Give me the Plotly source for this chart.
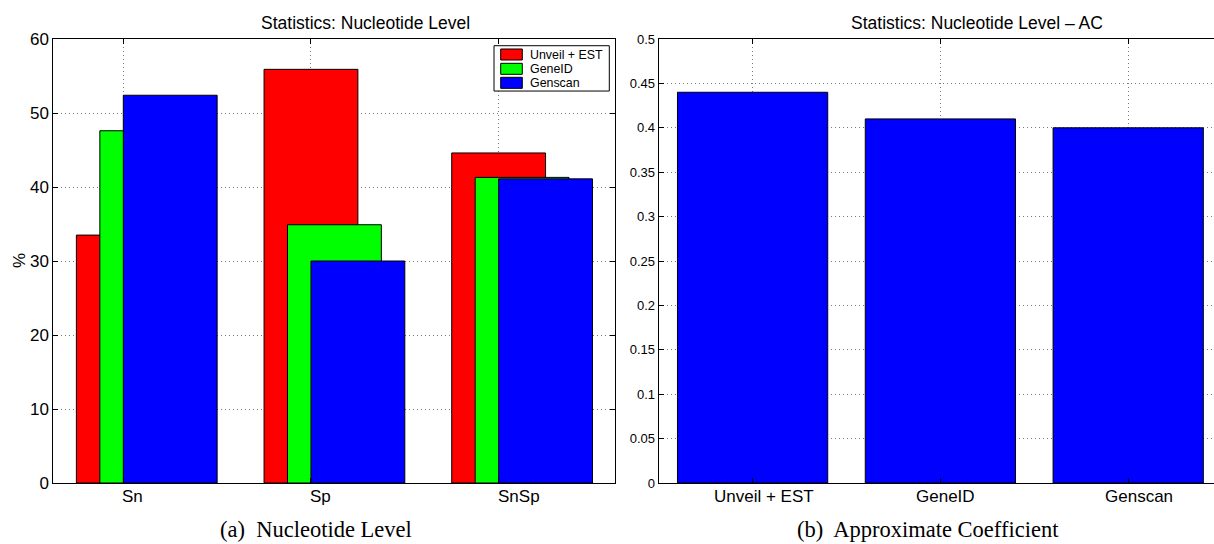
import plotly.graph_objects as go

# ---------------- data ----------------
categories = ["Sn", "Sp", "SnSp"]
methods = ["Unveil + EST", "GeneID", "Genscan"]
unveil_est = [33.5, 55.9, 44.6]
geneid = [47.6, 34.9, 41.3]
genscan = [52.4, 30.0, 41.1]
ac_values = [0.44, 0.41, 0.40]
left_yticks = [0, 10, 20, 30, 40, 50, 60]
right_yticks = [0, 0.05, 0.1, 0.15, 0.2, 0.25, 0.3, 0.35, 0.4, 0.45, 0.5]
right_yticktext = ["0", "0.05", "0.1", "0.15", "0.2", "0.25", "0.3", "0.35", "0.4", "0.45", "0.5"]

# ---------------- style ----------------
W, H = 1214, 544
TOP, BOT = 39.0, 482.7
colors = ["#FF0000", "#00FF00", "#0000FF"]
offsets = [-0.25, -0.125, 0.0]
SANS = "Liberation Sans, Arial, Helvetica, sans-serif"
SERIF = "Liberation Serif, Times New Roman, serif"

def px2x(px):
    return px / W

def py2y(py):
    return (BOT - py) / (BOT - TOP)

fig = go.Figure()
xpos = list(range(1, len(categories) + 1))
series = [unveil_est, geneid, genscan]
for name, vals, col, off in zip(methods, series, colors, offsets):
    fig.add_trace(go.Bar(x=xpos, y=vals, name=name, width=0.5, offset=off,
                         marker=dict(color=col, line=dict(color="black", width=1)),
                         xaxis="x", yaxis="y", showlegend=False))

fig.add_trace(go.Bar(x=list(range(1, len(methods) + 1)), y=ac_values, width=0.8,
                     marker=dict(color="#0000FF", line=dict(color="black", width=1)),
                     xaxis="x2", yaxis="y2", showlegend=False))

grid = dict(showgrid=True, gridcolor="#7a7a7a", griddash="1px,3px", gridwidth=1, zeroline=False)
axline = dict(showline=True, linecolor="black", linewidth=1, ticks="inside", ticklen=5,
              tickcolor="black", tickwidth=1)

fig.update_layout(
    width=W, height=H, barmode="overlay", plot_bgcolor="white", paper_bgcolor="white",
    margin=dict(l=0, r=0, t=TOP, b=H - BOT, pad=0),
    xaxis=dict(domain=[px2x(53.3), px2x(615)], range=[0.627, 3.62], tickvals=xpos,
               showticklabels=False, mirror="ticks", anchor="y", **grid, **axline),
    yaxis=dict(domain=[0, 1], range=[0, 60], tickvals=left_yticks, mirror="ticks",
               anchor="x", tickfont=dict(family=SANS, size=17, color="black"),
               **grid, **axline),
    xaxis2=dict(domain=[px2x(658.7), 1.0], range=[0.5, 0.5 + (W - 658.7) / 187.8],
                tickvals=list(range(1, len(methods) + 1)), showticklabels=False,
                mirror="ticks", anchor="y2", **grid, **axline),
    yaxis2=dict(domain=[0, 1], range=[0, 0.5], tickvals=right_yticks, ticktext=right_yticktext,
                mirror=False, anchor="x2", tickfont=dict(family=SANS, size=13, color="black"),
                **grid, **axline),
)

ann = []
# category labels (left plot): left-aligned near tick
for i, c in enumerate(categories):
    ann.append(dict(x=xpos[i], y=0, xref="x", yref="paper", text=c, showarrow=False,
                    xanchor="left", yanchor="top", xshift=-3, yshift=-2,
                    font=dict(family=SANS, size=17, color="black")))
# method labels (right plot)
rshift = [11, 5.4, 10.5]
for i, m in enumerate(methods):
    ann.append(dict(x=i + 1, y=0, xref="x2", yref="paper", text=m, showarrow=False,
                    xanchor="center", yanchor="top", xshift=rshift[i], yshift=-2,
                    font=dict(family=SANS, size=17, color="black")))
# titles
ann.append(dict(x=px2x(365), y=1, xref="paper", yref="paper", yshift=16, text="Statistics: Nucleotide Level",
                showarrow=False, xanchor="center", yanchor="middle",
                font=dict(family=SANS, size=17.5, color="black")))
ann.append(dict(x=px2x(977), y=1, xref="paper", yref="paper", yshift=16,
                text="Statistics: Nucleotide Level \u2013 AC",
                showarrow=False, xanchor="center", yanchor="middle",
                font=dict(family=SANS, size=17.5, color="black")))
# y-axis label
ann.append(dict(x=px2x(19), y=0.5, xref="paper", yref="paper", text="%", textangle=-90,
                showarrow=False, xanchor="center", yanchor="middle",
                font=dict(family=SANS, size=17, color="black")))
# captions
ann.append(dict(x=px2x(316), y=py2y(529), xref="paper", yref="paper", text="(a)  Nucleotide Level",
                showarrow=False, xanchor="center", yanchor="middle",
                font=dict(family=SERIF, size=22.5, color="black")))
ann.append(dict(x=px2x(927.5), y=py2y(529), xref="paper", yref="paper", text="(b)  Approximate Coefficient",
                showarrow=False, xanchor="center", yanchor="middle",
                font=dict(family=SERIF, size=22.5, color="black")))

# custom legend
shapes = [dict(type="rect", xref="paper", yref="paper", x0=px2x(494), x1=px2x(609.3),
               y0=py2y(91), y1=py2y(45.7), line=dict(color="black", width=1),
               fillcolor="white", layer="above")]
row_tops = [49, 63.3, 77.3]
for name, col, rt in zip(methods, colors, row_tops):
    shapes.append(dict(type="rect", xref="paper", yref="paper", x0=px2x(500.7), x1=px2x(522.3),
                       y0=py2y(rt + 11), y1=py2y(rt), line=dict(color="black", width=1),
                       fillcolor=col, layer="above"))
    ann.append(dict(x=px2x(528), y=py2y(rt + 5.5), xref="paper", yref="paper", text=name,
                    showarrow=False, xanchor="left", yanchor="middle",
                    font=dict(family=SANS, size=12.4, color="black")))

fig.update_layout(annotations=ann, shapes=shapes)
fig.write_html("out.html", config={"displayModeBar": False},
               post_script="document.body.style.margin='0px';document.body.style.overflow='hidden';")
